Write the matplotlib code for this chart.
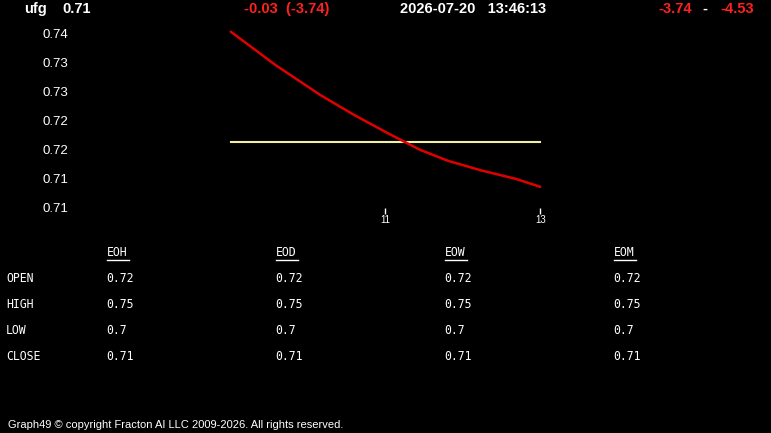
import matplotlib
matplotlib.use('Agg')
import matplotlib.pyplot as plt
from matplotlib.lines import Line2D

W, H = 771, 433

# chart data
hours = [9.0, 9.58, 10.16, 10.59, 11.03, 11.45, 11.81, 12.25, 12.68, 13.0]
prices = [0.7404, 0.7346, 0.7294, 0.7260, 0.7228, 0.7199, 0.7180, 0.7163, 0.7149, 0.7135]
open_price = 0.7213
y_ticks = [0.74, 0.735, 0.73, 0.725, 0.72, 0.715, 0.71]
x_ticks = [11, 13]

# table data
table_cols = ['EOH', 'EOD', 'EOW', 'EOM']
row_labels = ['OPEN', 'HIGH', 'LOW', 'CLOSE']
row_values = ['0.72', '0.75', '0.7', '0.71']

fig = plt.figure(figsize=(W / 100, H / 100), dpi=100)
fig.patch.set_facecolor('black')


def px(x, y):
    return x / W, 1 - y / H


# plot area
ax = fig.add_axes([75 / W, 1 - 208 / H, (700 - 75) / W, (208 - 25) / H])
ax.set_facecolor('black')
for s in ax.spines.values():
    s.set_visible(False)

ax.plot(hours, prices, color='#e00000', linewidth=1.8, zorder=3,
        solid_joinstyle='round', solid_capstyle='round')
ax.plot([hours[0], hours[-1]], [open_price, open_price], color='#f0f0a0', linewidth=1.5, zorder=2)

ax.set_xlim(6.987, 15.065)
ax.set_ylim(0.70983, 0.74156)
ax.set_yticks(y_ticks)
ax.set_yticklabels(['%.2f' % v for v in y_ticks])
ax.set_xticks(x_ticks)
ax.tick_params(axis='y', length=0, pad=5, labelcolor='white', labelsize=9.5)
ax.tick_params(axis='x', length=4, width=1, color='white', pad=1, labelcolor='white', labelsize=7)
for lab in ax.get_yticklabels():
    lab.set_fontfamily('Liberation Sans')
for lab in ax.get_xticklabels():
    lab.set_fontfamily('Liberation Sans')

# header line
hdr = dict(fontfamily='Liberation Sans', fontweight='bold', fontsize=10.5, va='center')
fig.text(*px(24, 9), 'ufg', color='white', **hdr)
fig.text(*px(62, 9), '0.71', color='white', **hdr)
fig.text(*px(244, 9), '-0.03  (-3.74)', color='#ff2020', **hdr)
fig.text(*px(400, 9), '2026-07-20   13:46:13', color='white', **hdr)
fig.text(*px(658, 9), '-3.74', color='#ff2020', **hdr)
fig.text(*px(702, 9), '-', color='white', **hdr)
fig.text(*px(720, 9), '-4.53', color='#ff2020', **hdr)

# table
mono = dict(fontfamily='DejaVu Sans Mono', fontsize=8.3, color='white', va='center')
col_x = [107, 276, 445, 614]
row_y = [279, 304, 330, 356]
for cx, name in zip(col_x, table_cols):
    fig.text(*px(cx, 252), name, **mono)
    fig.add_artist(Line2D([cx / W, (cx + 22) / W], [1 - 260 / H, 1 - 260 / H],
                          color='white', linewidth=1, transform=fig.transFigure))
for ry, lab, val in zip(row_y, row_labels, row_values):
    fig.text(*px(6, ry), lab, **mono)
    for cx in col_x:
        fig.text(*px(cx - 1, ry), val, **mono)

# footer
fig.text(*px(8, 425), 'Graph49 \u00a9 copyright Fracton AI LLC 2009-2026. All rights reserved.',
         fontfamily='Liberation Sans', fontsize=8, color='white', va='center')

fig.savefig('out.png', dpi=100, facecolor='black')
